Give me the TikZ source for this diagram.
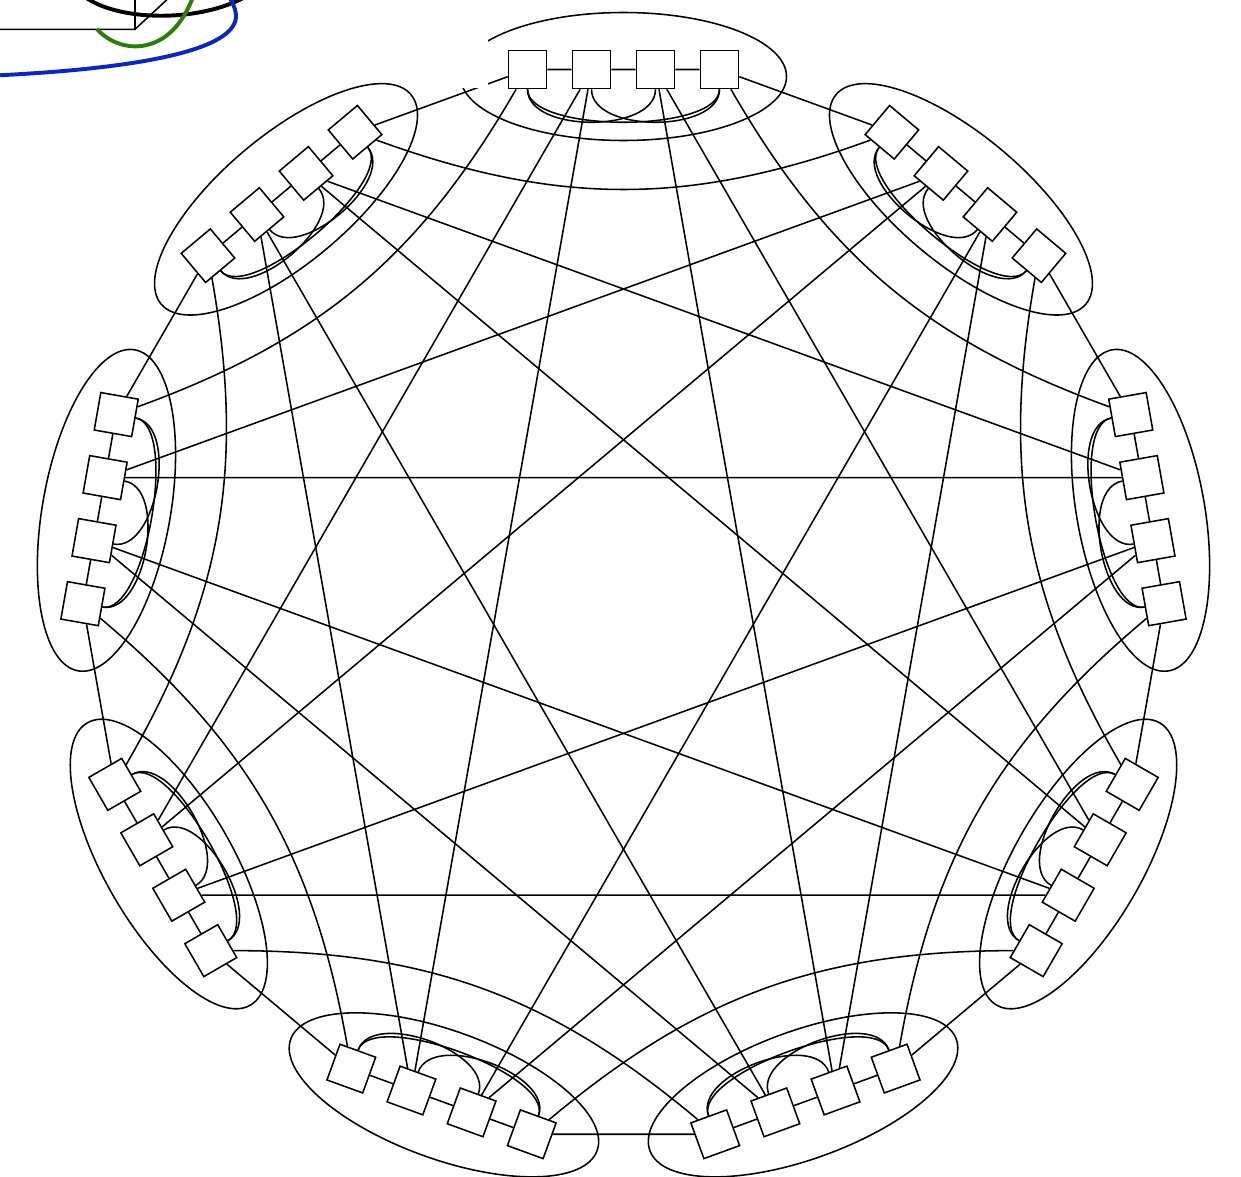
\documentclass[tikz,border=0pt]{standalone}
\usepackage{xcolor}
\usetikzlibrary{shapes.geometric,backgrounds}
\definecolor{INK}{HTML}{000000}
\definecolor{LEAF}{HTML}{2E7D0A}
\definecolor{SEA}{HTML}{0A28BE}

\begin{document}
\begin{tikzpicture}[
  line width=1.1pt,
  sq/.style={draw=INK, fill=white, minimum size=0.95cm, inner sep=0pt},
  grp/.style={ellipse, draw=INK, minimum width=8.15cm, minimum height=3.2cm, inner sep=0pt},
  wire/.style={draw=INK, line width=1.1pt},
  hook/.style={out=#1, in=#1, distance=1.1cm},
  fat/.style={line width=2.8pt},
]

\useasboundingbox (-15.5875,-14.3625) rectangle (15.4375,15.0375);
\clip (-15.5875,-14.3625) rectangle (15.4375,15.0375);

% nine groups of four round the ring
\foreach \k in {0,...,8} {
  \pgfmathtruncatemacro\a{90+40*\k}
  \node[grp, rotate=\a-90] (e\k) at (\a:13.125) {};
  \foreach \i in {1,...,4}
    \path (\a:13.3) ++(\a-90:{(\i-2.5)*1.6}) node[sq, rotate=\a-90] (n\k\i) {};
}

\begin{scope}[on background layer, every path/.style={wire}]
\foreach \k in {0,...,8} {
  \pgfmathtruncatemacro\b{270+40*\k}
  \pgfmathtruncatemacro\kp{mod(\k+8,9)}
  \pgfmathtruncatemacro\kq{mod(\k+2,9)}
  \pgfmathtruncatemacro\kr{mod(\k+3,9)}
  \pgfmathtruncatemacro\ks{mod(\k+4,9)}
  % chain, then on to the next group
  \draw (n\k1) -- (n\k2) -- (n\k3) -- (n\k4) -- (n\kp1);
  % loops inside the group
  \draw (n\k1.south) to[hook=\b] (n\k3.south);
  \draw (n\k2.south) to[hook=\b] (n\k4.south);
  \draw (n\k1.south) to[hook=\b] (n\k4.south);
  % two groups on
  \draw (n\k1) to[bend left=20] (n\kq4);
  % across
  \draw (n\k2) -- (n\kr3);
  \draw (n\k2) -- (n\ks3);
}
\end{scope}

% gap left by the figure above
\fill[white] (-4.3375,12.8375) rectangle (-3.3875,15.2);

% corner of that figure
\draw (-15.7125,14.305) -- (-12.2125,14.305) -- (-12.2125,15.1625)
      (-12.2125,14.305) -- (-11.2875,15.1625);
\draw[fat] (-13.4625,15.1125) .. controls (-12.5875,14.4875) and (-10.5875,14.4875) .. (-9.4625,15.1125);
\draw[fat, LEAF] (-13.1625,14.3125) .. controls (-12.5875,13.6625) and (-11.2875,13.5875) .. (-10.7375,15.1875);
\draw[fat, SEA] (-15.7125,13.15) .. controls (-11.8375,13.3375) and (-9.6375,13.8375) .. (-9.6875,14.6625)
      .. controls (-9.7125,14.8875) and (-9.7875,14.9875) .. (-9.8875,15.1625);

\end{tikzpicture}
\end{document}
